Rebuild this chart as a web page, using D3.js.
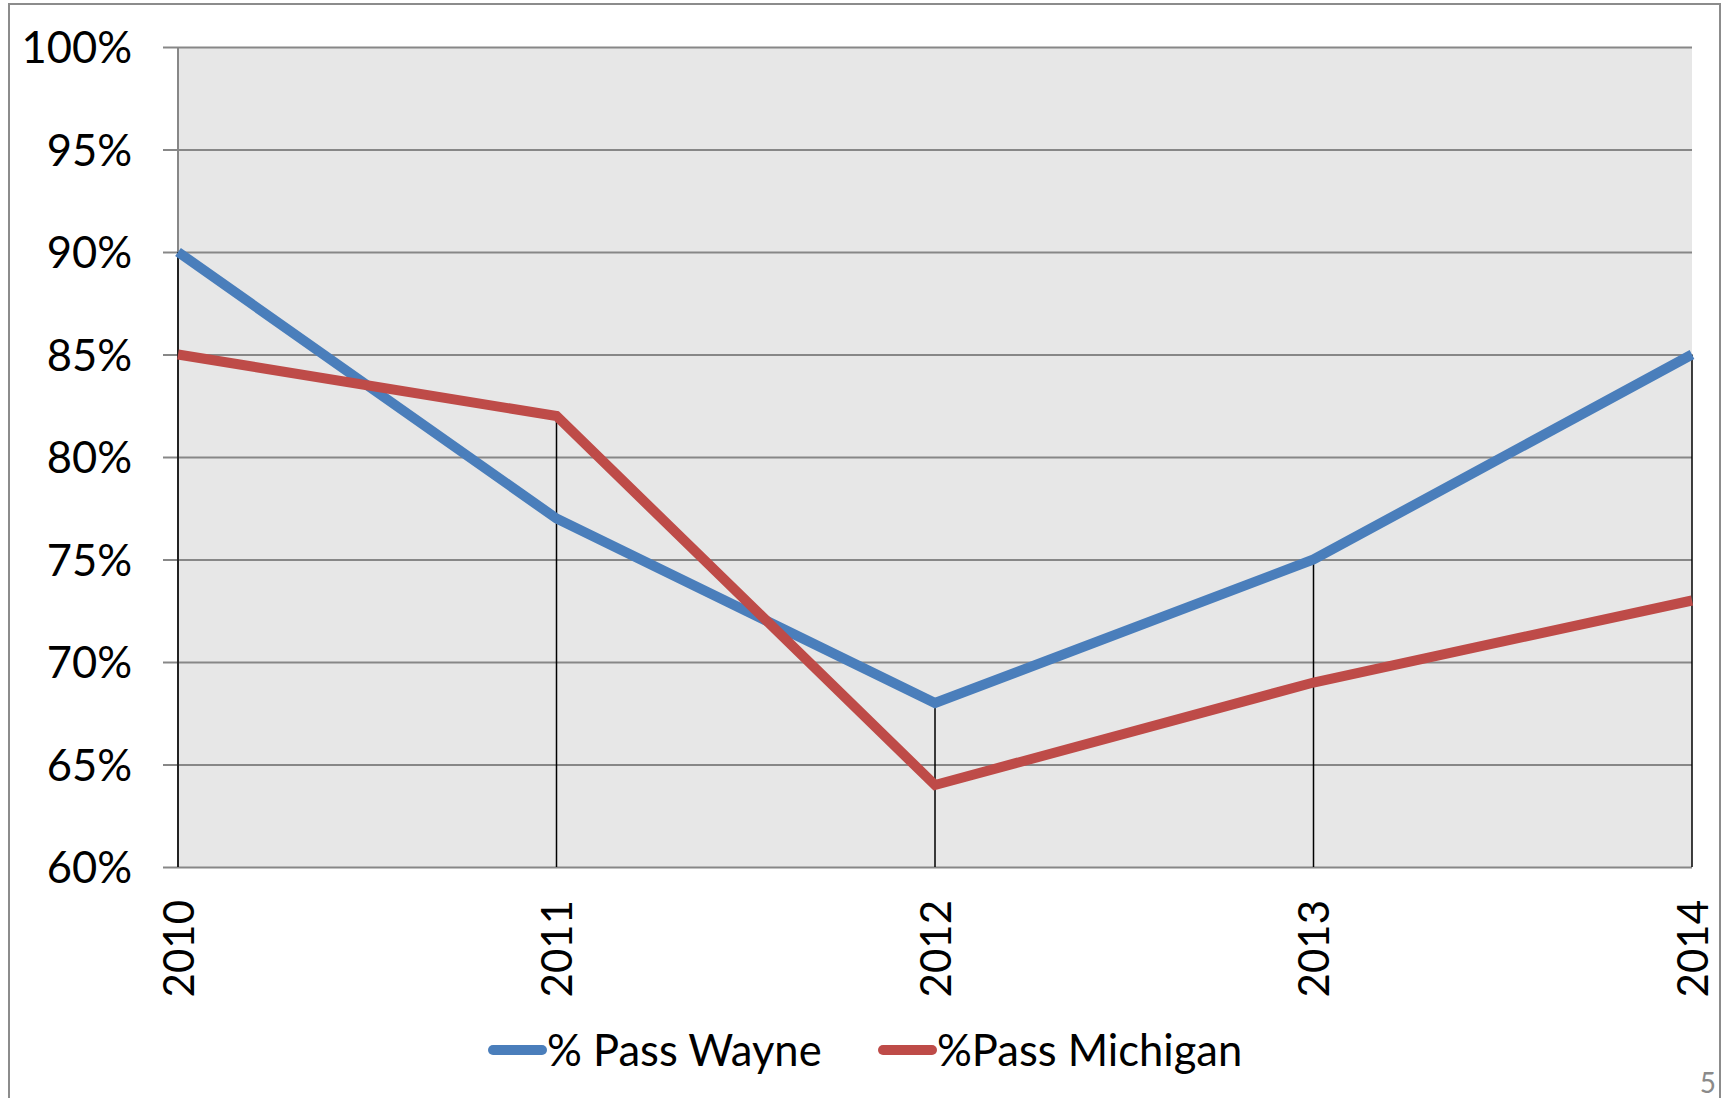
<!DOCTYPE html>
<html>
<head>
<meta charset="utf-8">
<script src="https://cdn.jsdelivr.net/npm/d3@7"></script>
<style>
  body { margin: 0; background: #fff; }
  svg text { font-family: Lato, "Open Sans", sans-serif; fill: #000; }
</style>
</head>
<body>
<svg id="chart" width="1723" height="1098"></svg>
<script>
// data
const years = [2010, 2011, 2012, 2013, 2014];
const passWayne = [0.90, 0.77, 0.68, 0.75, 0.85];
const passMichigan = [0.85, 0.82, 0.64, 0.69, 0.73];
const yTicks = [0.60, 0.65, 0.70, 0.75, 0.80, 0.85, 0.90, 0.95, 1.00];
const seriesNames = ['% Pass Wayne', '%Pass Michigan'];
const seriesColors = ['#4a7ebb', '#be4b48'];

const svg = d3.select('#chart');
const plotLeft = 178, plotRight = 1692, plotTop = 47, plotBottom = 867;

const x = d3.scalePoint().domain(years).range([plotLeft, plotRight]);
const y = d3.scaleLinear().domain([0.6, 1]).range([plotBottom, plotTop]);

// outer frame
svg.append('rect')
    .attr('x', 9).attr('y', 4)
    .attr('width', 1711).attr('height', 1110)
    .attr('fill', 'none')
    .attr('stroke', '#8c8c8c')
    .attr('stroke-width', 2);

// plot area
svg.append('rect')
    .attr('x', plotLeft).attr('y', plotTop)
    .attr('width', plotRight - plotLeft).attr('height', plotBottom - plotTop)
    .attr('fill', '#e7e7e7');

// gridlines + y labels in one axis
const yAxis = svg.append('g')
    .attr('transform', 'translate(' + plotRight + ',0)')
    .call(d3.axisLeft(y)
        .tickValues(yTicks)
        .tickSize(plotRight - 163)
        .tickPadding(31)
        .tickFormat(d3.format('.0%')));
yAxis.select('.domain').remove();
yAxis.selectAll('line').attr('stroke', '#878787').attr('stroke-width', 2);
yAxis.selectAll('text')
    .style('font-size', '43.5px')
    .attr('dy', '0.36em');

// left border of plot area
svg.append('line')
    .attr('x1', plotLeft).attr('x2', plotLeft)
    .attr('y1', plotTop).attr('y2', plotBottom)
    .attr('stroke', '#878787').attr('stroke-width', 2);

// drop lines from highest series
svg.append('g').selectAll('line')
    .data(years)
    .enter()
    .append('line')
    .attr('x1', d => x(d)).attr('x2', d => x(d))
    .attr('y1', (d, i) => y(Math.max(passWayne[i], passMichigan[i])))
    .attr('y2', plotBottom)
    .attr('stroke', '#000')
    .attr('stroke-width', 1.5);

// x labels
const xAxis = svg.append('g')
    .attr('transform', 'translate(0,' + plotBottom + ')')
    .call(d3.axisBottom(x).tickSize(0).tickPadding(0));
xAxis.select('.domain').remove();
xAxis.selectAll('text')
    .style('font-size', '42px')
    .attr('text-anchor', 'end')
    .attr('dy', '0.36em')
    .attr('transform', 'translate(0,33) rotate(-90)')
    .attr('y', 0)
    .attr('x', 0);

// series lines
const line = d3.line()
    .x((d, i) => x(years[i]))
    .y(d => y(d));

[passWayne, passMichigan].forEach(function (s, i) {
    svg.append('path')
        .datum(s)
        .attr('d', line)
        .attr('fill', 'none')
        .attr('stroke', seriesColors[i])
        .attr('stroke-width', 10)
        .attr('stroke-linejoin', 'miter');
});

// legend
const legendX = [489, 879];
const legend = svg.append('g').selectAll('g')
    .data(seriesNames)
    .enter()
    .append('g')
    .attr('transform', (d, i) => 'translate(' + legendX[i] + ',1050)');
legend.append('line')
    .attr('x1', 4).attr('x2', 53)
    .attr('stroke', (d, i) => seriesColors[i])
    .attr('stroke-width', 10)
    .attr('stroke-linecap', 'round');
legend.append('text')
    .attr('x', 58)
    .attr('dy', '0.36em')
    .style('font-size', '43.5px')
    .text(d => d);

// page number
svg.append('text')
    .attr('x', 1716).attr('y', 1093)
    .attr('text-anchor', 'end')
    .style('font-size', '28px')
    .style('fill', '#8a8a8a')
    .text('5');
</script>
</body>
</html>
